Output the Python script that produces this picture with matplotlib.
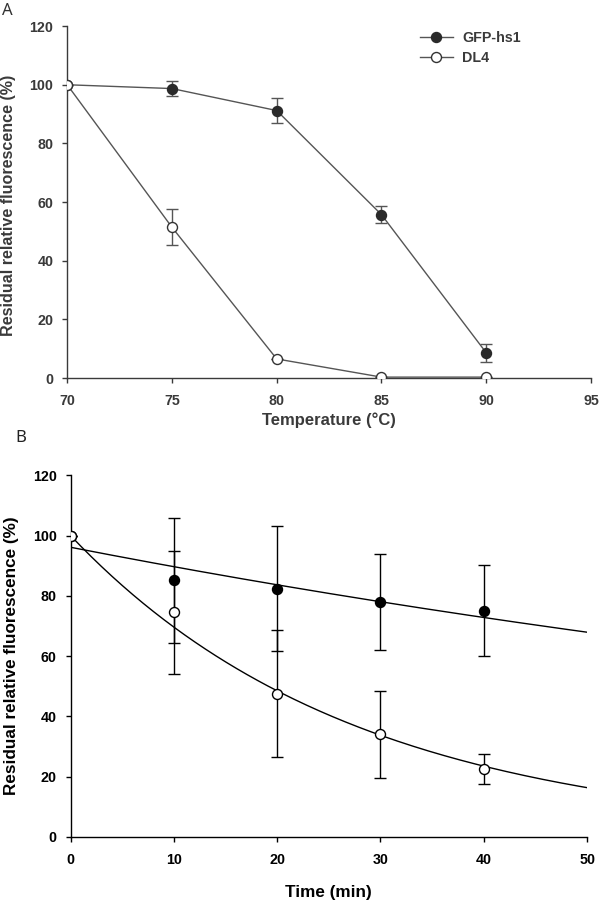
import numpy as np
import matplotlib
matplotlib.use("Agg")
from matplotlib import pyplot as plt

plt.rcParams['font.family'] = ['Liberation Sans', 'DejaVu Sans']
plt.rcParams['font.weight'] = 'bold'

# panel A: thermal stability
temp = [70, 75, 80, 85, 90]
gfp_temp = [100, 98.7, 91.2, 55.7, 8.6]
gfp_temp_err = [0, 2.6, 4.3, 2.8, 3.0]
dl4_temp = [100, 51.4, 6.5, 0.3, 0.3]
dl4_temp_err = [0, 6.2, 0, 0, 0]
temp_ticks = [70, 75, 80, 85, 90, 95]

# panel B: time course at high temperature
time = [0, 10, 20, 30, 40]
gfp_time = [100, 85.1, 82.3, 77.9, 75.1]
gfp_time_err = [0, 20.6, 20.7, 16.0, 15.2]
dl4_time = [100, 74.6, 47.5, 34.0, 22.6]
dl4_time_err = [0, 20.4, 21.0, 14.5, 5.0]
time_ticks = [0, 10, 20, 30, 40, 50]
y_ticks = [0, 20, 40, 60, 80, 100, 120]

# single exponential fits (amplitude, rate per min)
gfp_fit = (96.1, 0.00694)
dl4_fit = (100.0, 0.0362)

fig = plt.figure(figsize=(6, 9), dpi=100)

def style_axes(ax, col):
    for s in ['top', 'right']:
        ax.spines[s].set_visible(False)
    for s in ['left', 'bottom']:
        ax.spines[s].set_color(col)
        ax.spines[s].set_linewidth(1.0)
    ax.tick_params(axis='both', direction='out', length=3.5, width=1.0,
                   colors=col, labelsize=10.3)
    ax.tick_params(axis='x', pad=8)
    ax.tick_params(axis='y', pad=6.5)

# ---- A ----
colA = '#3a3a3a'
lineA = '#555555'
axA = fig.add_axes([0.112, 0.58, 0.873, 0.391])
axA.errorbar(temp, gfp_temp, yerr=gfp_temp_err, color=lineA, lw=1.0,
             marker='o', ms=7.2, mfc='#2a2a2a', mec='#2a2a2a', mew=1.0,
             ecolor=lineA, elinewidth=1.0, capsize=4.3, capthick=1.0,
             label='GFP-hs1', zorder=3)
axA.errorbar(temp, dl4_temp, yerr=dl4_temp_err, color=lineA, lw=1.0,
             marker='o', ms=7.2, mfc='white', mec='#333333', mew=1.0,
             ecolor=lineA, elinewidth=1.0, capsize=4.3, capthick=1.0,
             label='DL4', zorder=4)
axA.set_xlim(70, 95)
axA.set_ylim(0, 120)
axA.set_xticks(temp_ticks)
axA.set_yticks(y_ticks)
style_axes(axA, colA)
for lab in axA.get_xticklabels() + axA.get_yticklabels():
    lab.set_color(colA)
    lab.set_fontweight('bold')
axA.set_xlabel('Temperature (°C)', fontsize=12, fontweight='bold',
               color=colA)
axA.set_ylabel('Residual relative fluorescence (%)', fontsize=11.6,
               fontweight='bold', color=colA)
axA.xaxis.set_label_coords(0.5, -0.097)
axA.yaxis.set_label_coords(-0.098, 0.49)
handles, labels = axA.get_legend_handles_labels()
leg = axA.legend([h[0] for h in handles], labels, loc='upper left',
                 bbox_to_anchor=(420 / 600, 1 - 31.5 / 900),
                 bbox_transform=fig.transFigure, frameon=False,
                 fontsize=10.3, handlelength=2.3, handletextpad=0.65,
                 labelspacing=0.37, borderpad=0, borderaxespad=0)
for t in leg.get_texts():
    t.set_color(colA)
    t.set_fontweight('bold')

# ---- B ----
axB = fig.add_axes([0.1175, 0.07, 0.861, 0.402])
tt = np.linspace(0, 50, 200)
axB.plot(tt, gfp_fit[0] * np.exp(-gfp_fit[1] * tt), color='black', lw=1.0,
         zorder=2)
axB.plot(tt, dl4_fit[0] * np.exp(-dl4_fit[1] * tt), color='black', lw=1.0,
         zorder=2)
axB.errorbar(time, gfp_time, yerr=gfp_time_err, ls='none', marker='o',
             ms=7.2, mfc='black', mec='black', mew=1.0, ecolor='black',
             elinewidth=1.0, capsize=4.3, capthick=1.0, zorder=3)
axB.errorbar(time, dl4_time, yerr=dl4_time_err, ls='none', marker='o',
             ms=7.2, mfc='white', mec='black', mew=1.0, ecolor='black',
             elinewidth=1.0, capsize=4.3, capthick=1.0, zorder=4)
axB.set_xlim(0, 50)
axB.set_ylim(0, 120)
axB.set_xticks(time_ticks)
axB.set_yticks(y_ticks)
style_axes(axB, 'black')
for lab in axB.get_xticklabels() + axB.get_yticklabels():
    lab.set_fontweight('bold')
axB.set_xlabel('Time (min)', fontsize=12.3, fontweight='bold')
axB.set_ylabel('Residual relative fluorescence (%)', fontsize=12.3,
               fontweight='bold')
axB.xaxis.set_label_coords(0.5, -0.133)
axB.yaxis.set_label_coords(-0.1, 0.5)

# panel letters
fig.text(2 / 600, 1 - 3 / 900, 'A', fontsize=12, fontweight='normal',
         family='Noto Sans', color='#333333', va='top', ha='left')
fig.text(15 / 600, 1 - 430 / 900, 'B', fontsize=12, fontweight='normal',
         family='Noto Sans', color='#222222', va='top', ha='left')

plt.savefig('out.png', dpi=100)
